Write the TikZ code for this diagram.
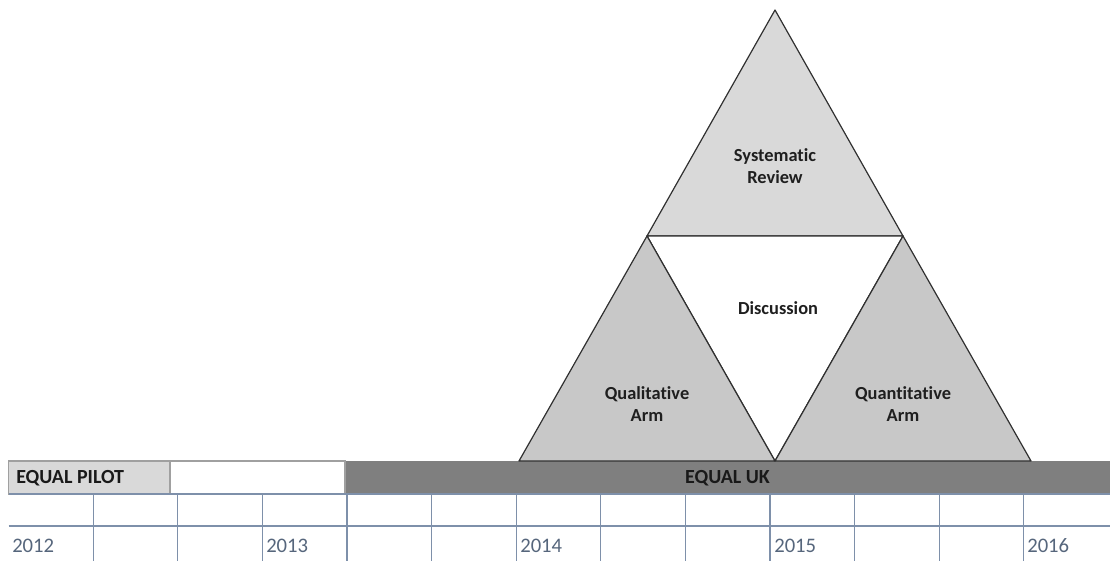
\documentclass[tikz,border=0pt]{standalone}
\usepackage{fontspec}
\setmainfont{Carlito}[Ligatures=NoCommon]
\definecolor{toptri}{HTML}{D9D9D9}
\definecolor{armtri}{HTML}{C8C8C8}
\definecolor{trieline}{HTML}{303030}
\definecolor{bandgray}{HTML}{7F7F7F}
\definecolor{pilotgray}{HTML}{D9D9D9}
\definecolor{gridline}{HTML}{7E90AA}
\definecolor{celledge}{HTML}{A0A0A0}
\definecolor{yeartext}{HTML}{56667C}
\begin{document}
\begin{tikzpicture}[x=0.75pt,y=-0.75pt,
  tri/.style={draw=trieline,line width=0.9pt,line join=round},
  trilabel/.style={font=\fontsize{13.8pt}{16.5pt}\selectfont\bfseries,align=center,inner sep=0pt,text=black!88},
  headlabel/.style={font=\fontsize{15pt}{18pt}\selectfont\bfseries,inner sep=0pt,text=black!90},
  yearlabel/.style={font=\fontsize{15.5pt}{18pt}\selectfont,inner sep=0pt,anchor=west,text=yeartext},
  grid/.style={draw=gridline,line width=0.9pt}]
\useasboundingbox (0,0) rectangle (1110,561);
% ---- table ----
\fill[bandgray] (345,461) rectangle (1110,494);
\filldraw[fill=pilotgray,draw=celledge,line width=0.8pt] (8.5,461) rectangle (170,494);
\draw[celledge,line width=0.8pt] (170,461) rectangle (345,494);
\draw[grid] (8.5,494) -- (1110,494);
\draw[grid] (8.5,526) -- (1110,526);
\foreach \i in {1,...,12} {
  \draw[grid] ({8.5+84.6*\i},494) -- ({8.5+84.6*\i},561);
}
\node[headlabel,anchor=west] (pilot) at (16,478) {EQUAL PILOT};
\node[headlabel] (uk) at (727.5,478) {EQUAL UK};
\node[yearlabel] (y2012) at (12,546) {2012};
\node[yearlabel] (y2013) at (266,546) {2013};
\node[yearlabel] (y2014) at (520,546) {2014};
\node[yearlabel] (y2015) at (774,546) {2015};
\node[yearlabel] (y2016) at (1027,546) {2016};
% ---- triangles ----
\coordinate (apex) at (775,10);
\coordinate (tl) at (647,236);
\coordinate (tr) at (903,236);
\coordinate (bl) at (519,461);
\coordinate (bm) at (775,461);
\coordinate (br) at (1031,461);
\filldraw[tri,fill=toptri] (apex) -- (tl) -- (tr) -- cycle;
\filldraw[tri,fill=white] (tl) -- (tr) -- (bm) -- cycle;
\filldraw[tri,fill=armtri] (tl) -- (bl) -- (bm) -- cycle;
\filldraw[tri,fill=armtri] (tr) -- (bm) -- (br) -- cycle;
\node[trilabel] (sysrev) at (775,166) {Systematic\\Review};
\node[trilabel] (disc) at (778,308) {Discussion};
\node[trilabel] (qual) at (647,404) {Qualitative\\Arm};
\node[trilabel] (quant) at (903,404) {Quantitative\\Arm};
\end{tikzpicture}
\end{document}
